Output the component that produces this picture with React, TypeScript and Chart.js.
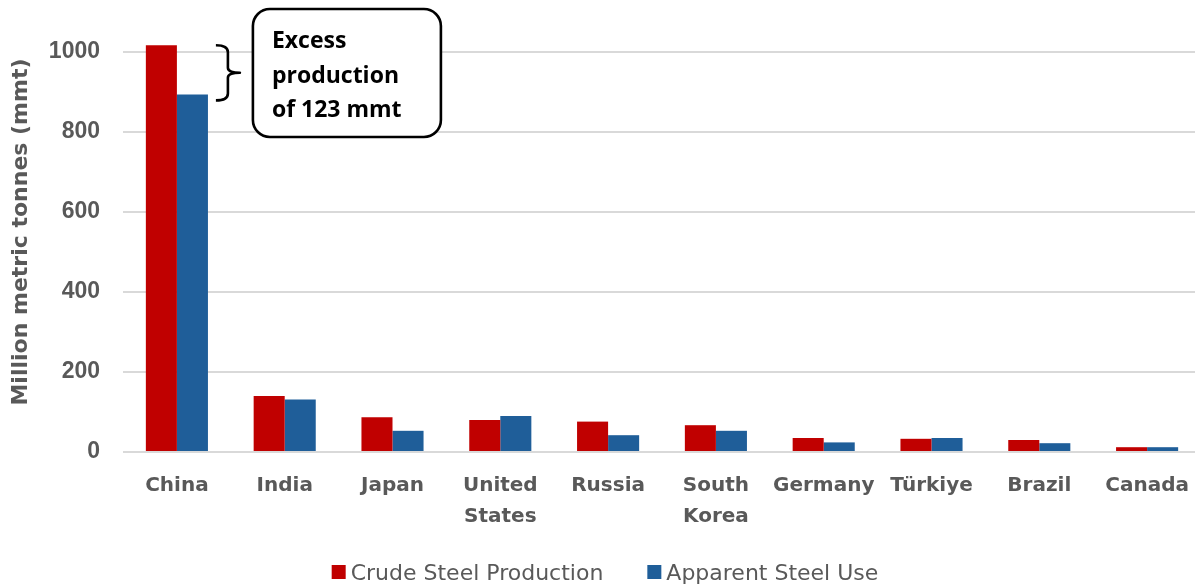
import React, { useEffect, useRef } from "react";
import { Chart, registerables } from "chart.js";

Chart.register(...registerables);

const categories: (string | string[])[] = [
  "China",
  "India",
  "Japan",
  ["United", "States"],
  "Russia",
  ["South", "Korea"],
  "Germany",
  "Türkiye",
  "Brazil",
  "Canada",
];
const crudeProduction = [1017, 140, 87, 80, 76, 67, 35, 33, 30, 12];
const apparentUse = [894, 131, 53, 90, 42, 53, 24, 35, 22, 12];
const seriesNames = ["Crude Steel Production", "Apparent Steel Use"];
const annotationLines = ["Excess", "production", "of 123 mmt"];
const yTitle = "Million metric tonnes (mmt)";
const yMax = 1100;
const yStep = 200;

const RED = "#C00000";
const BLUE = "#1F5E99";
const GRAY = "#595959";
const GRID = "#D9D9D9";

const annotationPlugin = {
  id: "excessAnnotation",
  afterDraw(chart: any) {
    const ctx = chart.ctx;
    const y = chart.scales.y;
    const x = chart.scales.x;
    const top = y.getPixelForValue(crudeProduction[0]);
    const bottom = y.getPixelForValue(apparentUse[0]) + 6;
    const mid = (top + bottom) / 2;
    const cx = x.getPixelForValue(0);
    const bx = cx + 39;
    const vx = bx + 12;
    ctx.save();
    ctx.strokeStyle = "#000";
    ctx.lineWidth = 2.6;
    ctx.lineJoin = "round";
    ctx.lineCap = "butt";
    ctx.beginPath();
    ctx.moveTo(bx, top);
    ctx.quadraticCurveTo(vx, top, vx, top + 7);
    ctx.lineTo(vx, mid - 5);
    ctx.quadraticCurveTo(vx, mid, vx + 12, mid);
    ctx.quadraticCurveTo(vx, mid, vx, mid + 5);
    ctx.lineTo(vx, bottom - 7);
    ctx.quadraticCurveTo(vx, bottom, bx, bottom);
    ctx.stroke();
    // callout box
    const rx = cx + 76;
    const ry = 9;
    const rw = 188;
    const rh = 128;
    ctx.beginPath();
    ctx.roundRect(rx, ry, rw, rh, 17);
    ctx.fillStyle = "#fff";
    ctx.fill();
    ctx.stroke();
    ctx.fillStyle = "#000";
    ctx.font = "bold 23px 'Open Sans'";
    ctx.textAlign = "left";
    ctx.textBaseline = "alphabetic";
    annotationLines.forEach((t, i) => {
      ctx.fillText(t, rx + 19, ry + 39 + i * 34.5);
    });
    ctx.restore();
  },
};

const legendPlugin = {
  id: "bottomLegend",
  afterDraw(chart: any) {
    const ctx = chart.ctx;
    const ds = chart.data.datasets;
    ctx.save();
    ctx.font = "22px 'DejaVu Sans'";
    const box = 14;
    const gap = 5;
    const itemGap = 44;
    const widths = ds.map((d: any) => box + gap + ctx.measureText(d.label).width);
    const total = widths.reduce((a: number, b: number) => a + b, 0) + itemGap * (ds.length - 1);
    let x = 605 - total / 2;
    const cy = 572;
    ds.forEach((d: any, i: number) => {
      ctx.fillStyle = d.backgroundColor;
      ctx.fillRect(x, cy - box / 2, box, box);
      ctx.fillStyle = GRAY;
      ctx.textBaseline = "alphabetic";
      ctx.textAlign = "left";
      ctx.fillText(d.label, x + box + gap, 580);
      x += widths[i] + itemGap;
    });
    ctx.restore();
  },
};

export default function App() {
  const ref = useRef<HTMLCanvasElement>(null);
  useEffect(() => {
    document.body.style.margin = "0";
    const chart = new Chart(ref.current!, {
      type: "bar",
      data: {
        labels: categories as any,
        datasets: [
          {
            label: seriesNames[0],
            data: crudeProduction,
            backgroundColor: RED,
            categoryPercentage: 0.576,
            barPercentage: 1,
          },
          {
            label: seriesNames[1],
            data: apparentUse,
            backgroundColor: BLUE,
            categoryPercentage: 0.576,
            barPercentage: 1,
          },
        ],
      },
      options: {
        animation: false,
        responsive: false,
        layout: { padding: { top: 12, left: 0, right: 0, bottom: 0 } },
        plugins: {
          tooltip: { enabled: false },
          legend: { display: false },
        },
        scales: {
          x: {
            grid: { display: false, drawTicks: false },
            border: { display: false },
            ticks: {
              color: GRAY,
              font: { family: "DejaVu Sans", size: 20, weight: "bold", lineHeight: 1.55 },
              padding: 18,
              maxRotation: 0,
              autoSkip: false,
            },
            afterFit(s: any) {
              s.height = 132;
              s.paddingLeft = 0;
              s.paddingRight = 0;
            },
          },
          y: {
            min: 0,
            max: yMax,
            grid: { color: GRID, lineWidth: 2, drawTicks: false },
            border: { display: false },
            ticks: {
              stepSize: yStep,
              includeBounds: false,
              color: GRAY,
              font: { family: "Liberation Sans", size: 23, weight: "bold" },
              padding: 23,
              callback: (v: any) => String(v),
            },
            title: {
              display: true,
              text: yTitle,
              color: GRAY,
              font: { family: "DejaVu Sans", size: 22, weight: "bold" },
              padding: { top: 8, bottom: 0 },
            },
            afterFit(s: any) {
              s.width = 123;
              s.paddingTop = 0;
              s.paddingBottom = 0;
            },
          },
        },
      },
      plugins: [annotationPlugin, legendPlugin],
    } as any);
    return () => chart.destroy();
  }, []);
  return (
    <div style={{ position: "fixed", left: 0, top: 0, width: 1195, height: 584, overflow: "hidden" }}>
      <canvas ref={ref} width={1201} height={584} style={{ display: "block" }} />
    </div>
  );
}
